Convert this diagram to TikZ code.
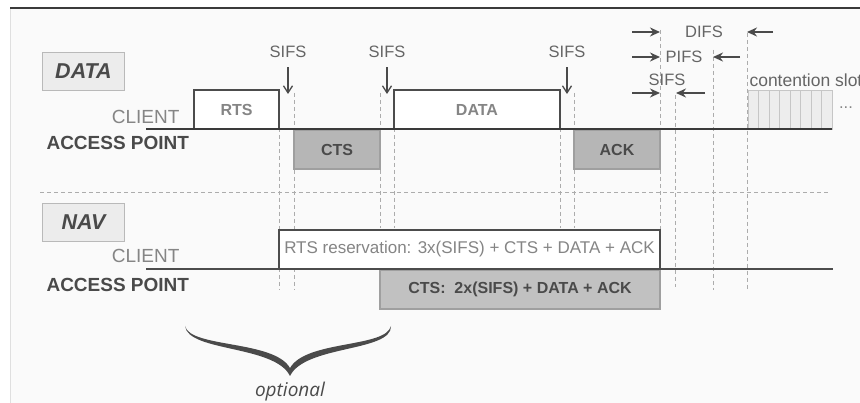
\documentclass[tikz,border=0pt]{standalone}
\usepackage{fontspec}
\setmainfont{Liberation Sans}
\newfontfamily\optfont{Open Sans}
\usetikzlibrary{positioning, arrows.meta}
\definecolor{bgfill}{HTML}{FAFAFA}
\definecolor{linedark}{HTML}{3A3A3A}
\definecolor{txtgray}{HTML}{858585}
\definecolor{txtdark}{HTML}{4A4A4A}
\definecolor{apfill}{HTML}{B6B6B6}
\definecolor{slotfill}{HTML}{EDEDED}
\tikzset{
	sigline/.style={line width=2pt, draw=linedark},
	guide/.style={draw=gray!65, line width=0.8pt, dash pattern=on 4pt off 3pt},
	varr/.style={-{Straight Barb[length=7pt, width=9pt]}, line width=1.3pt, draw=txtdark},
	harr/.style={-{Stealth[length=10pt, width=9pt]}, line width=1.5pt, draw=txtdark},
	pkt nodes/.style={
		rectangle,
		draw=gray!60!black,
		line width=1.1pt,
		inner sep=0pt,
		outer sep=0pt,
		minimum height=39pt,
		font=\fontsize{16}{18}\selectfont\bfseries
	},
	client pkt/.style={pkt nodes, fill=white, text=txtgray, anchor=south west},
	ap pkt/.style={pkt nodes, fill=apfill, draw=gray!75, text=txtdark, anchor=north west},
	section tag/.style={
		rectangle,
		draw=gray!55,
		fill=gray!15,
		line width=1pt,
		minimum width=82pt,
		minimum height=38pt,
		anchor=north west,
		font=\fontsize{21.5}{24}\selectfont\bfseries\itshape,
		text=txtdark
	},
	ifs label/.style={font=\fontsize{16.5}{18}\selectfont, text=txtdark!85},
	client label/.style={font=\fontsize{19}{21}\selectfont, text=txtgray, anchor=east},
	ap label/.style={font=\fontsize{19}{21}\selectfont\bfseries, text=txtdark, anchor=west},
	slot/.style={fill=slotfill, draw=gray!45, line width=0.8pt}
}
\newcommand{\pktnode}[6]{% name, style, x, y, width, text
	\node[#2, minimum width=#5pt] (#1) at (#3,#4) {#6}
}

\begin{document}
\begin{tikzpicture}[x=1pt, y=-1pt]
	\useasboundingbox (0,0) rectangle (860,403);
	\fill[white] (0,0) rectangle (860,403);
	\fill[bgfill] (10,8) rectangle (860,403);
	\draw[gray!25, line width=0.8pt] (10,8) -- (10,403);
	\draw[line width=1.6pt, draw=linedark] (10,8) -- (860,8);

	% timing guides
	\foreach \gx/\gtop/\gbot in {279/93/290, 294/93/290, 380/93/228, 394/93/228,
		560/93/228, 574/93/228, 660/30/230, 675/95/287, 713/50/290, 747/33/290}
		\draw[guide] (\gx,\gtop) -- (\gx,\gbot);
	\draw[guide] (40,192) -- (830,192);

	% DATA part
	\node[section tag] (datatag) at (42,52) {DATA};
	\pktnode{rts}{client pkt}{194}{129}{85}{RTS};
	\pktnode{cts}{ap pkt}{294}{130}{86}{CTS};
	\pktnode{data}{client pkt}{394}{129}{166}{DATA};
	\pktnode{ack}{ap pkt}{574}{130}{86}{ACK};
	\foreach \i in {0,...,7}
		\draw[slot] ({748+10.5*\i},129) rectangle ++(10.5,-39);
	\node[ifs label, anchor=south west, font=\fontsize{17.5}{19}\selectfont] (slots) at (746,90) {contention slots};
	\node[ifs label, text=txtgray] (more) at (846,108) {...};

	\coordinate (line1a) at (146,129);
	\coordinate (line1b) at (832,129);
	\draw[sigline] (line1a) -- (line1b);
	\node[client label] (client1) at (183,117) {CLIENT};
	\node[ap label] (ap1) at (43,143) {ACCESS POINT};

	\foreach \sx [count=\k] in {288, 387, 567} {
		\node[ifs label] (sifs\k) at (\sx,52) {SIFS};
		\coordinate (sifs\k tip) at (\sx,94);
		\draw[varr] ([yshift=-6pt]sifs\k.south) -- (sifs\k tip);
	}

	\foreach \nm/\y/\lx/\rx/\rs in {difs/32/660/747/773, pifs/57/660/713/740, sifsd/93/660/676/705} {
		\coordinate (\nm a) at (632,\y);
		\coordinate (\nm b) at (\lx,\y);
		\coordinate (\nm c) at (\rs,\y);
		\coordinate (\nm d) at (\rx,\y);
		\draw[harr] (\nm a) -- (\nm b);
		\draw[harr] (\nm c) -- (\nm d);
	}
	\node[ifs label] (difs) at (704,32) {DIFS};
	\node[ifs label] (pifs) at (684,57) {PIFS};
	\node[ifs label] (sifs4) at (667,80) {SIFS};

	% NAV part
	\node[section tag] (navtag) at (42,203) {NAV};
	\pktnode{rtsnav}{client pkt, font=\fontsize{17}{19}\selectfont}{279}{269}{381}{RTS reservation: 3x(SIFS) + CTS + DATA + ACK};
	\pktnode{ctsnav}{ap pkt, fill=apfill!85}{380}{270}{280}{CTS:\ \ 2x(SIFS) + DATA + ACK};

	\coordinate (line2a) at (146,269);
	\coordinate (line2b) at (833,269);
	\draw[line width=1.5pt, draw=gray!60!black] (line2a) -- (line2b);
	\node[client label] (client2) at (183,256) {CLIENT};
	\node[ap label] (ap2) at (43,285) {ACCESS POINT};

	% optional brace
	\coordinate (brtip) at (290,376);
	\fill[txtdark] (185,326) .. controls (188,352) and (275,345) .. (brtip)
		.. controls (305,345) and (392,352) .. (391,326)
		.. controls (386,348) and (306,340) .. (290,368)
		.. controls (274,340) and (190,348) .. (185,326) -- cycle;
	\node[below=3pt of brtip, font=\optfont\itshape\fontsize{19}{21}\selectfont, text=txtdark] (optional) {optional};
\end{tikzpicture}
\end{document}
